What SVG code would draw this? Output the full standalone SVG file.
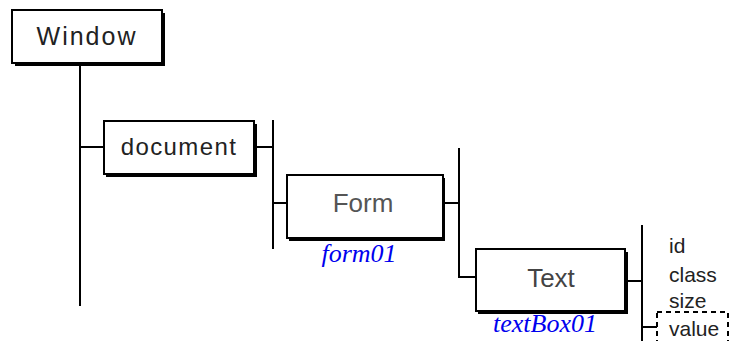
<svg xmlns="http://www.w3.org/2000/svg" width="738" height="341" viewBox="0 0 738 341">
<style>
.sh{fill:#000}
.bx{fill:#fff;stroke:#000;stroke-width:2}
.nt{font-family:"Liberation Sans",Arial,sans-serif;text-anchor:middle;fill:#222}
.ln{stroke:#000;stroke-width:2;fill:none}
.lb{font-family:"Liberation Serif",serif;font-style:italic;font-size:26px;fill:#0000ee;text-anchor:middle}
.at{font-family:"Liberation Sans",Arial,sans-serif;font-size:21px;fill:#222}
</style>
<rect width="738" height="341" fill="#fff"/>
<g id="connectors">
<path class="ln" d="M80,63 V306"/>
<path class="ln" d="M80,147 H104"/>
<path class="ln" d="M254,147 H273"/>
<path class="ln" d="M273,120 V249"/>
<path class="ln" d="M273,203 H287"/>
<path class="ln" d="M443,203 H459"/>
<path class="ln" d="M459,148 V277 H476"/>
<path class="ln" d="M625,281 H642"/>
<path class="ln" d="M642,225 V341"/>
<path class="ln" d="M642,327 H657"/>
</g>
<g id="window">
<rect class="sh" x="15" y="13" width="150" height="53"/>
<rect class="bx" x="12" y="10" width="150" height="53"/>
<text class="nt" x="87" y="45" font-size="25" letter-spacing="2">Window</text>
</g>
<g id="document">
<rect class="sh" x="106" y="124" width="151" height="53"/>
<rect class="bx" x="104" y="121" width="150" height="53"/>
<text class="nt" x="179" y="155" font-size="24" letter-spacing="1.4">document</text>
</g>
<g id="form">
<rect class="sh" x="289" y="178" width="156" height="63"/>
<rect class="bx" x="287" y="175" width="156" height="63"/>
<text class="nt" x="363" y="212" font-size="26" style="fill:#555">Form</text>
<text class="lb" x="359" y="262">form01</text>
</g>
<g id="text">
<rect class="sh" x="478" y="252" width="150" height="62"/>
<rect class="bx" x="476" y="249" width="149" height="62"/>
<text class="nt" x="551" y="287" font-size="26" style="fill:#444">Text</text>
<text class="lb" x="545" y="332">textBox01</text>
</g>
<g id="attributes">
<text class="at" x="669" y="253">id</text>
<text class="at" x="669" y="282">class</text>
<text class="at" x="669" y="308">size</text>
</g>
<g id="value">
<rect x="657" y="312" width="71" height="40" fill="none" stroke="#000" stroke-width="2" stroke-dasharray="5,4"/>
<text class="at" x="669" y="336">value</text>
</g>
</svg>
